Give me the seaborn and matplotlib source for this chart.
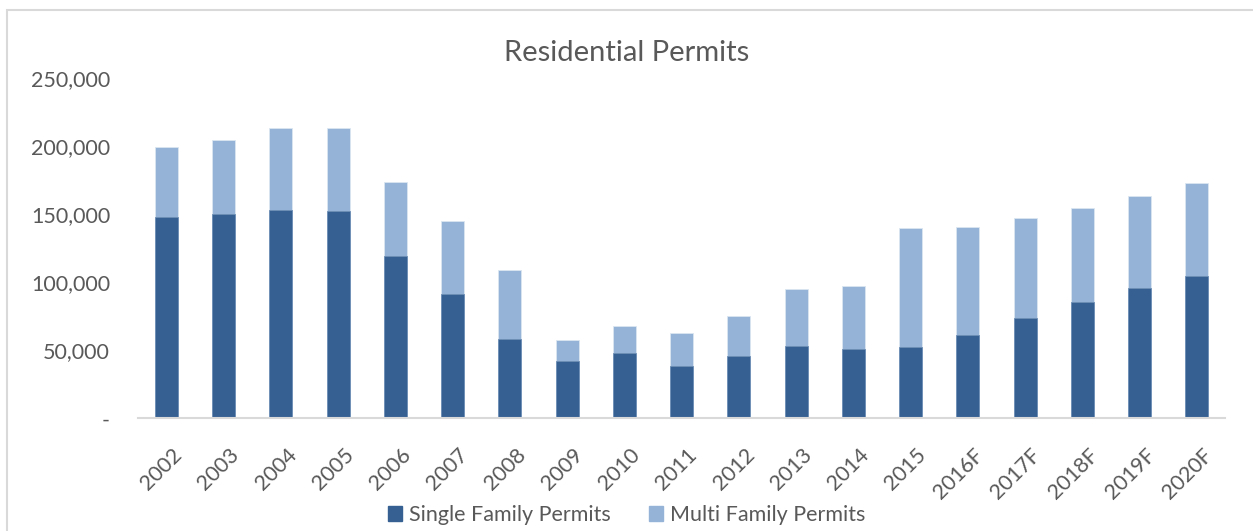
import numpy as np
import pandas as pd
import matplotlib
matplotlib.use("Agg")
import matplotlib.pyplot as plt
import matplotlib.patches as mpatches
import matplotlib.transforms as mtransforms
from matplotlib.ticker import FuncFormatter
import seaborn as sns

years = ["2002", "2003", "2004", "2005", "2006", "2007", "2008", "2009", "2010",
         "2011", "2012", "2013", "2014", "2015", "2016F", "2017F", "2018F",
         "2019F", "2020F"]
single_family = [148100, 150300, 153300, 152600, 119700, 91400, 58100, 42100, 48000,
                 38700, 45600, 53200, 51200, 52400, 61500, 73800, 85800, 95600, 104900]
total_permits = [199600, 204400, 213800, 213500, 174000, 144900, 109300, 57600, 67900,
                 62500, 75200, 95100, 97100, 139900, 140900, 147300, 154400, 163500, 173300]

DARK = "#376092"
LIGHT = "#95B3D7"
TEXT = "#595959"

df = pd.DataFrame({"year": years, "single": single_family, "total": total_permits})

sns.set_style("white")
plt.rcParams["font.family"] = ["Lato", "DejaVu Sans"]

fig = plt.figure(figsize=(12.53, 5.31), dpi=100)
ax = fig.add_axes([0.110, 0.2122, 0.868, 0.6403])

# stacked look: total in light, single family drawn over it in dark
sns.barplot(data=df, x="year", y="total", color=LIGHT, width=0.4, saturation=1,
            edgecolor="#dce6f2", linewidth=0.6, ax=ax)
sns.barplot(data=df, x="year", y="single", color=DARK, width=0.4, saturation=1,
            edgecolor="#6f8fb5", linewidth=0.6, ax=ax)

ax.set_ylim(0, 250000)
ax.set_xlim(-0.5, len(years) - 0.5)
ax.set_yticks(np.arange(0, 250001, 50000))
ax.yaxis.set_major_formatter(FuncFormatter(lambda v, p: "-" if v == 0 else f"{int(v):,}"))
ax.set_xlabel("")
ax.set_ylabel("")

for side in ["left", "right", "top"]:
    ax.spines[side].set_visible(False)
ax.spines["bottom"].set_color("#d9d9d9")
ax.spines["bottom"].set_linewidth(1.5)

ax.tick_params(axis="both", length=0, colors=TEXT, labelsize=15.5)
ax.tick_params(axis="y", pad=20)
ax.tick_params(axis="x", pad=19)
shift = mtransforms.ScaledTranslation(4 / 72, 0, fig.dpi_scale_trans)
for lbl in ax.get_xticklabels():
    lbl.set_rotation(45)
    lbl.set_ha("right")
    lbl.set_rotation_mode("anchor")
    lbl.set_transform(lbl.get_transform() + shift)

fig.text(0.5, 0.900, "Residential Permits", ha="center", va="center",
         fontsize=21, color=TEXT)

handles = [mpatches.Patch(color=DARK, label="Single Family Permits"),
           mpatches.Patch(color=LIGHT, label="Multi Family Permits")]
fig.legend(handles=handles, loc="center", bbox_to_anchor=(0.5, 0.03), ncol=2,
           frameon=False, fontsize=15.5, labelcolor=TEXT, handlelength=0.65,
           handleheight=0.65, handletextpad=0.3, columnspacing=1.8)

# chart-area border
fig.patches.append(mpatches.Rectangle((0.0056, -0.01), 1.0, 0.991, transform=fig.transFigure,
                                      fill=False, edgecolor="#d9d9d9", linewidth=1.5))

fig.savefig("out.png", dpi=100)
